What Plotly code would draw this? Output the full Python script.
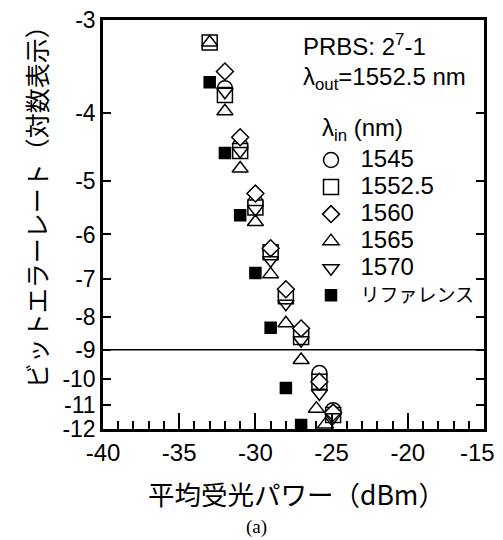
import numpy as np
import plotly.graph_objects as go

# ---- data (x: average received power in dBm, y: log10(BER)) ----
power_1545 = [-32, -31, -30, -29, -28, -27, -25.8, -24.9]
ber_1545 = [-3.70, -4.45, -5.38, -6.34, -7.44, -8.48, -9.79, -11.2]

power_1552 = [-33, -32, -31, -30, -29, -28, -27, -25.8, -24.9]
ber_1552 = [-3.21, -3.78, -4.53, -5.47, -6.38, -7.44, -8.60, -10.10, -11.4]

power_1560 = [-32, -31, -30, -29, -28, -27, -25.8, -24.9]
ber_1560 = [-3.51, -4.33, -5.22, -6.29, -7.26, -8.34, -10.10, -11.3]

power_1565 = [-33, -32, -31, -30, -29, -28, -27, -26, -25.4]
ber_1565 = [-3.21, -3.98, -4.80, -5.75, -6.89, -8.19, -9.34, -11.14, -11.8]

power_1570 = [-32, -31, -30, -29, -28, -27, -25.8, -24.9]
ber_1570 = [-3.74, -4.53, -5.50, -6.56, -7.64, -8.70, -10.54, -11.5]

power_ref = [-33, -32, -31, -30, -29, -28, -27]
ber_ref = [-3.63, -4.56, -5.62, -6.86, -8.32, -10.33, -11.83]

x_tick_vals = [-40, -35, -30, -25, -20, -15]
x_tick_labels = ["-40", "-35", "-30", "-25", "-20", "-15\u00a0\u00a0"]
y_tick_exps = [-3, -4, -5, -6, -7, -8, -9, -10, -11, -12]
y_tick_labels = ["-3", "-4", "-5", "-6", "-7", "-8", "-9", "-10", "-11", "-12"]
threshold_exp = -9

LATIN = "Liberation Sans, Noto Sans CJK JP"
CJK = "Noto Sans CJK JP"


def ber_axis(e):
    """BER scale: log(-log(BER)) style axis."""
    return -np.log10(-np.asarray(e, dtype=float) - 0.7)


def big(t):
    return '<span style="font-size:24px">' + t + '</span>'


series = [
    (big("1545"), power_1545, ber_1545, "circle", 15, "white", "black"),
    (big("1552.5"), power_1552, ber_1552, "square", 15, "white", "black"),
    (big("1560"), power_1560, ber_1560, "diamond", 13, "white", "black"),
    (big("1565"), power_1565, ber_1565, "triangle-up-open", 14, "black", "black"),
    (big("1570"), power_1570, ber_1570, "triangle-down-open", 14, "black", "black"),
    ('<span style="font-size:19px">リファレンス</span>', power_ref, ber_ref, "square", 11, "black", "black"),
]

fig = go.Figure()
for name, xs, ys, sym, size, fill, lc in series:
    fig.add_trace(go.Scatter(
        x=xs, y=ber_axis(ys), mode="markers", name=name,
        marker=dict(symbol=sym, size=size, color=fill,
                    line=dict(color=lc, width=1.5)),
    ))

fig.add_hline(y=float(ber_axis(threshold_exp)), line=dict(color="black", width=1.5), layer="below")

axis_common = dict(showline=True, linewidth=2.5, linecolor="black", showgrid=False,
                   zeroline=False, ticks="inside", tickcolor="black", tickwidth=2,
                   automargin=False, ticklabeloverflow="allow")

fig.update_xaxes(range=[-40, -15], tickmode="array", tickvals=x_tick_vals,
                 ticktext=x_tick_labels, ticklen=16, mirror=True,
                 tickfont=dict(family=LATIN, size=24, color="black"),
                 minor=dict(tickmode="linear", tick0=-40, dtick=1, ticks="inside", ticklen=8,
                            tickwidth=2, tickcolor="black", showgrid=False),
                 **axis_common)
fig.update_yaxes(range=[float(ber_axis(-12)), float(ber_axis(-3))],
                 tickmode="array", tickvals=ber_axis(y_tick_exps).tolist(), ticktext=y_tick_labels,
                 ticklen=8, mirror="ticks",
                 tickfont=dict(family=LATIN, size=23, color="black"),
                 **axis_common)

# the page body adds an 8px offset, so the figure is 8px smaller than the window
fig.update_layout(
    width=495, height=532,
    margin=dict(l=95, r=19, t=12, b=111, autoexpand=False),
    plot_bgcolor="white", paper_bgcolor="white",
    font=dict(family=LATIN, color="black"),
    showlegend=True,
    legend=dict(x=0.521, y=0.703, xanchor="left", yanchor="top",
                font=dict(family=LATIN, size=18.5, color="black"),
                itemwidth=49, bgcolor="rgba(0,0,0,0)", borderwidth=0,
                tracegroupgap=0),
    annotations=[
        dict(text="PRBS: 2<sup>7</sup>-1", x=0.52, y=0.938, xref="paper", yref="paper",
             xanchor="left", yanchor="middle", showarrow=False,
             font=dict(family=LATIN, size=24)),
        dict(text="λ<sub>out</sub>=1552.5 nm", x=0.52, y=0.858, xref="paper", yref="paper",
             xanchor="left", yanchor="middle", showarrow=False,
             font=dict(family=LATIN, size=24)),
        dict(text="λ<sub>in</sub> (nm)", x=0.57, y=0.733, xref="paper", yref="paper",
             xanchor="left", yanchor="middle", showarrow=False,
             font=dict(family=LATIN, size=24)),
        dict(text="平均受光パワー（dBm）", x=0.509, y=-0.158, xref="paper", yref="paper",
             xanchor="center", yanchor="middle", showarrow=False,
             font=dict(family=CJK, size=26.5)),
        dict(text="ビットエラーレート（対数表示）", x=-0.176, y=0.559, xref="paper", yref="paper",
             xanchor="center", yanchor="middle", showarrow=False, textangle=-90,
             font=dict(family=CJK, size=25)),
        dict(text="(a)", x=0.404, y=-0.24, xref="paper", yref="paper",
             xanchor="center", yanchor="middle", showarrow=False,
             font=dict(family="Liberation Serif, DejaVu Serif", size=19)),
    ],
)

fig.write_html("out.html")
